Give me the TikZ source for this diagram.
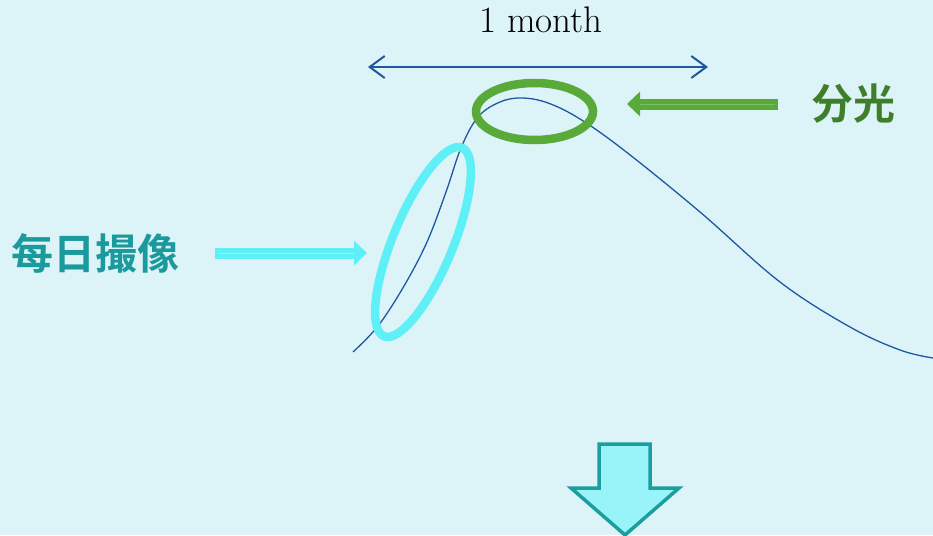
\documentclass[tikz,border=0pt]{standalone}
\usepackage{fontspec}
\newfontfamily\cjk{Noto Sans CJK SC}[BoldFont={* Bold}]
\usetikzlibrary{arrows.meta,shapes.geometric}
\definecolor{bgcol}{HTML}{DCF4F8}
\definecolor{curvecol}{HTML}{1F58A0}
\definecolor{ringgreen}{HTML}{5AAA3A}
\definecolor{glowgreen}{HTML}{7DBE62}
\definecolor{textgreen}{HTML}{3F7F2A}
\definecolor{ringcyan}{HTML}{5EF0F6}
\definecolor{glowcyan}{HTML}{8EF5F9}
\definecolor{textteal}{HTML}{1A9A9C}
\definecolor{downfill}{HTML}{98F4F8}
\definecolor{downedge}{HTML}{1A9E9E}
\tikzset{
  x=1pt, y=-1pt,
  cjklabel/.style={font=\cjk\bfseries\fontsize{42}{46}\selectfont, inner sep=0pt},
  ring/.style={ellipse, draw, line width=8.5pt, inner sep=0pt},
  pointer/.style={line width=11pt, -{Triangle[length=13pt,width=24pt]}},
  glint/.style={line width=0.8pt},
}
\begin{document}
\begin{tikzpicture}
\useasboundingbox (0,0) rectangle (933,535);
\fill[bgcol] (0,0) rectangle (933,535);

% light curve
\draw[curvecol, line width=1.3pt] plot[smooth, tension=0.6] coordinates {
  (353,352) (378,326) (404,286) (427,242) (446,192) (461,148)
  (478,117) (500,102) (522,98) (548,103) (580,119) (625,151)
  (700,212) (780,282) (850,327) (900,350) (933,358)};

% one-month span
\coordinate (spanL) at (368,67);
\coordinate (spanR) at (708,67);
\draw[curvecol, line width=2pt, {Straight Barb[length=15pt,width=22pt]}-{Straight Barb[length=15pt,width=22pt]}] (spanL) -- (spanR);
\node[font=\fontsize{37}{40}\selectfont, inner sep=0pt, anchor=base] (month) at (541,33) {1 month};

% rings
\node[ring, draw=ringgreen, minimum width=117pt, minimum height=57pt] (peak) at (534.5,111.5) {};
\node[ring, draw=ringcyan, minimum width=204pt, minimum height=60pt, rotate=67.5] (rise) at (423,242) {};

% labels and pointers
\node[cjklabel, text=textgreen] (bunko) at (853,104) {分光};
\coordinate (gtail) at (778,104);
\coordinate (ghead) at (627,104);
\draw[pointer, ringgreen] (gtail) -- (ghead);
\draw[glint, glowgreen] ([xshift=-3pt]gtail) -- ([xshift=13pt]ghead);

\node[cjklabel, text=textteal] (satsuzo) at (95,253) {每日撮像};
\coordinate (ctail) at (215,253);
\coordinate (chead) at (367,253);
\draw[pointer, ringcyan] (ctail) -- (chead);
\draw[glint, glowcyan] ([xshift=3pt]ctail) -- ([xshift=-13pt]chead);

% downward block arrow
\draw[downedge, fill=downfill, line width=3.5pt, line join=miter]
  (599,444) -- (650,444) -- (650,488) -- (679,488) -- (625,535)
  -- (571,488) -- (599,488) -- cycle;
\end{tikzpicture}
\end{document}
